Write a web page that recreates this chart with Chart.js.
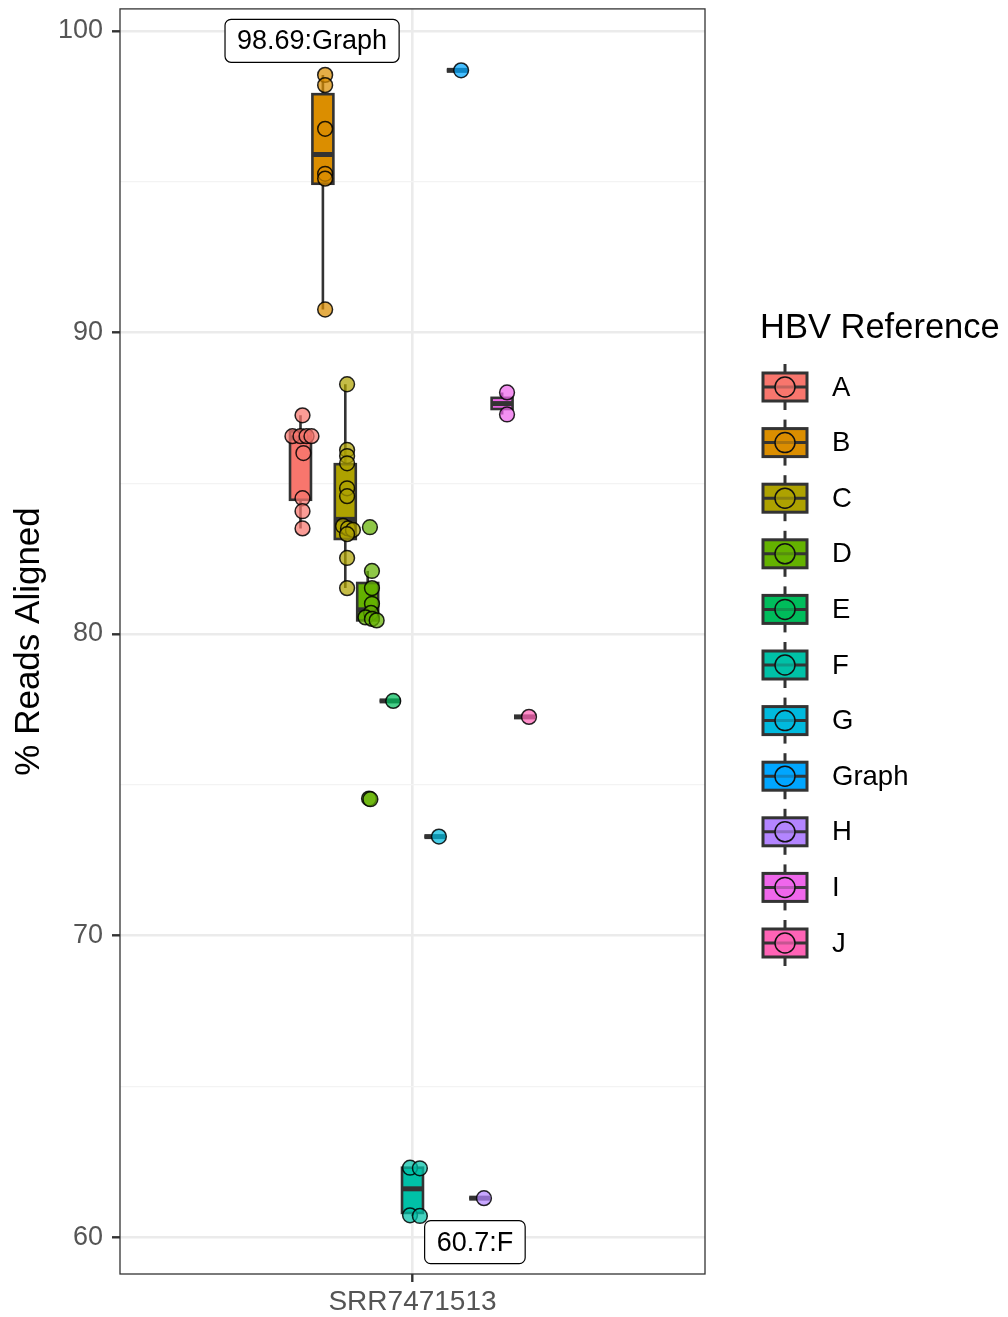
<!DOCTYPE html>
<html>
<head>
<meta charset="utf-8">
<script src="https://cdn.jsdelivr.net/npm/chart.js@4.4.1/dist/chart.umd.min.js"></script>
<style>
  html, body { margin: 0; padding: 0; background: #fff; }
  canvas { display: block; }
</style>
</head>
<body>
<canvas id="chart" width="1008" height="1317" style="width:1008px;height:1317px"></canvas>
<script>
// Sample on the x axis and the HBV references (one dodged box per reference)
const sampleLabel = 'SRR7471513';
const groups = ['A', 'B', 'C', 'D', 'E', 'F', 'G', 'Graph', 'H', 'I', 'J'];
const colors = ['#F8766D', '#DB8E00', '#AEA200', '#64B200', '#00BD5C', '#00C1A7',
                '#00BADE', '#00A6FF', '#B385FF', '#EF67EB', '#FF63B6'];

// Box statistics
const boxLow  = [83.5, 90.76, 81.52, 80.45, 77.78, 60.7, 73.28, 98.69, 61.29, 87.28, 77.25];
const boxQ1   = [84.45, 94.93, 83.15, 80.45, 77.78, 60.8, 73.28, 98.69, 61.29, 87.46, 77.25];
const boxMed  = [86.5, 95.9, 83.8, 80.8, 77.78, 61.6, 73.28, 98.69, 61.29, 87.64, 77.25];
const boxQ3   = [86.72, 97.9, 85.63, 81.69, 77.78, 62.3, 73.28, 98.69, 61.29, 87.83, 77.25];
const boxHigh = [87.25, 98.54, 88.28, 82.09, 77.78, 62.3, 73.28, 98.69, 61.29, 88.01, 77.25];

// Individual runs (% reads aligned) per reference
const ptsA = [87.25, 86.56, 86.56, 86.56, 86.56, 86.0, 84.5, 84.07, 83.5];
const ptsB = [98.54, 98.2, 96.75, 95.26, 95.1, 90.76];
const ptsC = [88.28, 86.1, 85.9, 85.66, 84.83, 84.57, 83.58, 83.5, 83.45, 83.31, 82.52, 81.52];
const ptsD = [83.54, 82.09, 81.52, 81.0, 80.7, 80.55, 80.5, 80.45, 74.54, 74.52];
const ptsE = [77.78];
const ptsF = [62.3, 62.28, 60.72, 60.7];
const ptsG = [73.28];
const ptsGraph = [98.69];
const ptsH = [61.29];
const ptsI = [88.01, 87.28];
const ptsJ = [77.25];
const points = [ptsA, ptsB, ptsC, ptsD, ptsE, ptsF, ptsG, ptsGraph, ptsH, ptsI, ptsJ];

// horizontal jitter of each point, as a fraction of one dodge slot
const jitter = [
  [0.09, -0.36, 0, 0.27, 0.49, 0.13, 0.09, 0.09, 0.09],
  [0.1, 0.1, 0.1, 0.1, 0.1, 0.1],
  [0.08, 0.08, 0.08, 0.08, 0.08, 0.08, -0.1, 0.12, 0.34, 0.08, 0.08, 0.08],
  [0.1, 0.19, 0.19, 0.19, 0.15, -0.1, 0.19, 0.4, 0.06, 0.12],
  [0.14], [-0.11, 0.33, -0.11, 0.33], [0.18], [0.17], [0.19], [0.22, 0.22], [0.2]
];

// callout labels (ggrepel style)
const labelText = ['98.69:Graph', '60.7:F'];
const labelX = [0.794, 1.128];
const labelY = [99.67, 59.83];

const SLOT = 0.04595;      // dodge width per reference, x units
const BOX_HALF = 0.0215;
const FONT = '"Liberation Sans", Arial, sans-serif';

const groupX = (i) => 1 + (i - 5) * SLOT;
const alpha = (hex, a) => {
  const n = parseInt(hex.slice(1), 16);
  return `rgba(${n >> 16}, ${(n >> 8) & 255}, ${n & 255}, ${a})`;
};

const datasets = groups.map((g, i) => ({
  type: 'scatter',
  label: g,
  data: points[i].map((v, k) => ({ x: groupX(i) + jitter[i][k] * SLOT, y: v })),
  backgroundColor: alpha(colors[i], 0.72),
  borderColor: 'rgba(0,0,0,0.85)',
  borderWidth: 1.5,
  pointRadius: 7.4,
  pointHoverRadius: 7.4
}));

// boxes + whiskers under the points
const boxPlugin = {
  id: 'boxes',
  beforeDatasetsDraw(chart) {
    const { ctx, chartArea, scales: { x, y } } = chart;
    ctx.save();
    ctx.beginPath();
    ctx.rect(chartArea.left, chartArea.top, chartArea.right - chartArea.left, chartArea.bottom - chartArea.top);
    ctx.clip();
    groups.forEach((g, i) => {
      const cx = x.getPixelForValue(groupX(i));
      const x0 = x.getPixelForValue(groupX(i) - BOX_HALF);
      const x1 = x.getPixelForValue(groupX(i) + BOX_HALF);
      const yLo = y.getPixelForValue(boxLow[i]);
      const yQ1 = y.getPixelForValue(boxQ1[i]);
      const yMd = y.getPixelForValue(boxMed[i]);
      const yQ3 = y.getPixelForValue(boxQ3[i]);
      const yHi = y.getPixelForValue(boxHigh[i]);
      ctx.strokeStyle = '#333333';
      ctx.lineWidth = 2.6;
      ctx.beginPath();
      ctx.moveTo(cx, yHi); ctx.lineTo(cx, yQ3);
      ctx.moveTo(cx, yQ1); ctx.lineTo(cx, yLo);
      ctx.stroke();
      ctx.fillStyle = colors[i];
      ctx.fillRect(x0, yQ3, x1 - x0, yQ1 - yQ3);
      ctx.strokeRect(x0, yQ3, x1 - x0, yQ1 - yQ3);
      ctx.lineWidth = 5;
      ctx.beginPath();
      ctx.moveTo(x0, yMd); ctx.lineTo(x1, yMd);
      ctx.stroke();
    });
    ctx.restore();
  },
  afterDraw(chart) {
    const { ctx, chartArea, scales: { x, y } } = chart;
    ctx.save();
    // panel border
    ctx.strokeStyle = '#333333';
    ctx.lineWidth = 1.3;
    ctx.strokeRect(chartArea.left, chartArea.top, chartArea.right - chartArea.left, chartArea.bottom - chartArea.top);

    // callout labels
    ctx.font = `27px ${FONT}`;
    ctx.textAlign = 'center';
    ctx.textBaseline = 'middle';
    labelText.forEach((t, i) => {
      const px = x.getPixelForValue(labelX[i]);
      const py = y.getPixelForValue(labelY[i]);
      const w = ctx.measureText(t).width + 24;
      const h = 43;
      ctx.beginPath();
      ctx.roundRect(px - w / 2, py - h / 2, w, h, 6);
      ctx.fillStyle = '#ffffff';
      ctx.fill();
      ctx.strokeStyle = '#000000';
      ctx.lineWidth = 1.2;
      ctx.stroke();
      ctx.fillStyle = '#000000';
      ctx.fillText(t, px, py + 1);
    });

    // legend
    const lx = chartArea.right + 80;
    ctx.textAlign = 'left';
    ctx.textBaseline = 'alphabetic';
    ctx.font = `34.5px ${FONT}`;
    ctx.fillStyle = '#000000';
    ctx.fillText('HBV Reference', chartArea.right + 55, 338);
    groups.forEach((g, i) => {
      const cy = 387 + i * 55.6;
      ctx.strokeStyle = '#333333';
      ctx.lineWidth = 3;
      ctx.beginPath();
      ctx.moveTo(lx, cy - 23); ctx.lineTo(lx, cy + 23);
      ctx.stroke();
      ctx.fillStyle = colors[i];
      ctx.fillRect(lx - 22, cy - 14, 44, 28);
      ctx.strokeRect(lx - 22, cy - 14, 44, 28);
      ctx.beginPath();
      ctx.moveTo(lx - 22, cy); ctx.lineTo(lx + 22, cy);
      ctx.stroke();
      ctx.beginPath();
      ctx.arc(lx, cy, 10, 0, Math.PI * 2);
      ctx.fillStyle = alpha(colors[i], 0.72);
      ctx.fill();
      ctx.strokeStyle = '#111111';
      ctx.lineWidth = 1.5;
      ctx.stroke();
      ctx.font = `27.5px ${FONT}`;
      ctx.fillStyle = '#000000';
      ctx.textBaseline = 'middle';
      ctx.fillText(g, lx + 47, cy + 1);
      ctx.textBaseline = 'alphabetic';
    });
    ctx.restore();
  }
};

new Chart(document.getElementById('chart'), {
  type: 'scatter',
  data: { datasets },
  plugins: [boxPlugin],
  options: {
    responsive: false,
    animation: false,
    layout: { padding: { top: 7, right: 303, bottom: 0, left: 0 } },
    plugins: {
      legend: { display: false },
      tooltip: { enabled: false }
    },
    scales: {
      x: {
        type: 'linear',
        min: 0.4,
        max: 1.6,
        afterFit: (s) => { s.height = 43; s.paddingLeft = 0; s.paddingRight = 0; },
        afterBuildTicks: (s) => { s.ticks = [{ value: 1 }]; },
        border: { display: false },
        grid: { color: '#EBEBEB', lineWidth: 2.6, tickColor: '#333333', tickLength: 8, tickWidth: 2.4 },
        ticks: {
          callback: () => sampleLabel,
          color: '#555555',
          font: { family: FONT, size: 28 },
          padding: 3,
          maxRotation: 0
        }
      },
      y: {
        min: 58.775,
        max: 100.728,
        afterFit: (s) => { s.width = 120; s.paddingTop = 0; s.paddingBottom = 0; },
        afterBuildTicks: (s) => { s.ticks = [60, 65, 70, 75, 80, 85, 90, 95, 100].map(v => ({ value: v })); },
        border: { display: false },
        grid: {
          color: (c) => (c.tick && c.tick.value % 10 === 0 ? '#EBEBEB' : '#F3F3F3'),
          lineWidth: (c) => (c.tick && c.tick.value % 10 === 0 ? 2.6 : 1.3),
          tickColor: (c) => (c.tick && c.tick.value % 10 === 0 ? '#333333' : 'rgba(0,0,0,0)'),
          tickLength: 8,
          tickWidth: 2.4
        },
        ticks: {
          callback: (v) => (v % 10 === 0 ? String(v) : ''),
          color: '#555555',
          font: { family: FONT, size: 27 },
          padding: 9
        },
        title: {
          display: true,
          text: '% Reads Aligned',
          color: '#000000',
          font: { family: FONT, size: 35 },
          padding: { top: 8, bottom: 0 }
        }
      }
    }
  }
});
</script>
</body>
</html>
